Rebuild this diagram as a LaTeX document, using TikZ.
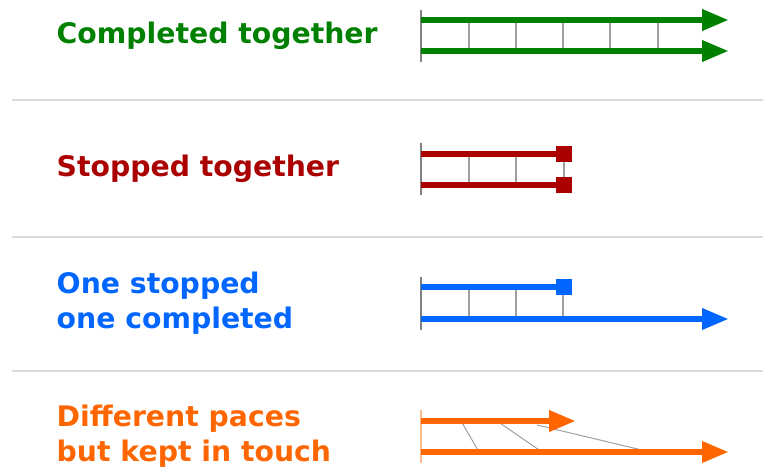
\documentclass[tikz,border=0pt]{standalone}
\usepackage{fontspec}
\setmainfont{DejaVu Sans}
\usetikzlibrary{arrows.meta}

\definecolor{cgreen}{RGB}{0,128,0}
\definecolor{cred}{RGB}{170,0,0}
\definecolor{cblue}{RGB}{0,102,255}
\definecolor{corange}{RGB}{255,102,0}
\definecolor{sepgray}{RGB}{218,218,218}
\definecolor{tickgray}{RGB}{160,160,160}
\definecolor{startgray}{RGB}{130,130,130}

\tikzset{
  label text/.style={anchor=base west, inner sep=0pt, font=\fontsize{28.3bp}{35bp}\selectfont\bfseries, align=left},
  separator/.style={sepgray, line width=1.6bp},
  startbar/.style={startgray, line width=2bp},
  rung/.style={tickgray, line width=1.4bp},
  slant/.style={tickgray, line width=1bp},
  track/.style={line width=6.5bp},
  arrowtrack/.style={track, -{Triangle[length=27bp,width=20bp]}},
  stopbox/.style={minimum size=16bp, inner sep=0pt, draw=none}
}

\begin{document}
\begin{tikzpicture}[x=1bp, y=-1bp]
  \useasboundingbox (0,0) rectangle (763,468);

  % separators between the four cases
  \draw[separator] (12,100) -- (763,100);
  \draw[separator] (12,237) -- (763,237);
  \draw[separator] (12,371) -- (763,371);

  % ---------- Completed together ----------
  % (base west of a two-line node sits on its last line)
  \node[label text, text=cgreen] (t1) at (56.5,44) {Completed together};
  \coordinate (a1s) at (421,20);  \coordinate (a1e) at (729,20);
  \coordinate (b1s) at (421,51);  \coordinate (b1e) at (729,51);
  \draw[startbar] (420.5,10) -- (420.5,62);
  \foreach \x in {469,516,563,610,658}
    \draw[rung] (\x,20) -- (\x,51);
  \draw[arrowtrack, cgreen] (a1s) -- (a1e);
  \draw[arrowtrack, cgreen] (b1s) -- (b1e);

  % ---------- Stopped together ----------
  \node[label text, text=cred] (t2) at (56.5,176.5) {Stopped together};
  \coordinate (a2s) at (421,154);  \coordinate (b2s) at (421,185);
  \draw[startbar] (420.5,143) -- (420.5,195);
  \foreach \x in {469,516}
    \draw[rung] (\x,154) -- (\x,185);
  \node[stopbox, fill=cred] (sq2a) at (564,154) {};
  \node[stopbox, fill=cred] (sq2b) at (564,185) {};
  \draw[rung] (sq2a.south) -- (sq2b.north);
  \draw[track, cred] (a2s) -- (sq2a.center);
  \draw[track, cred] (b2s) -- (sq2b.center);

  % ---------- One stopped, one completed ----------
  \node[label text, text=cblue] (t3) at (56.5,329) {One stopped\\one completed};
  \coordinate (a3s) at (421,287);  \coordinate (b3s) at (421,319);
  \coordinate (b3e) at (729,319);
  \draw[startbar] (420.5,277) -- (420.5,330);
  \foreach \x in {469,516,563}
    \draw[rung] (\x,287) -- (\x,319);
  \node[stopbox, fill=cblue] (sq3) at (564,287) {};
  \draw[track, cblue] (a3s) -- (sq3.center);
  \draw[arrowtrack, cblue] (b3s) -- (b3e);

  % ---------- Different paces but kept in touch ----------
  \node[label text, text=corange] (t4) at (56.5,461.5) {Different paces\\but kept in touch};
  \coordinate (a4s) at (421,421);  \coordinate (a4e) at (576,421);
  \coordinate (b4s) at (421,452);  \coordinate (b4e) at (729,452);
  \draw[startbar, corange!45] (420.5,410) -- (420.5,463);
  \draw[slant] (461,421) -- (479,452);
  \draw[slant] (497,421) -- (542,452);
  \draw[slant] (537,425) -- (650,452);
  \draw[arrowtrack, corange] (a4s) -- (a4e);
  \draw[arrowtrack, corange] (b4s) -- (b4e);
\end{tikzpicture}
\end{document}
